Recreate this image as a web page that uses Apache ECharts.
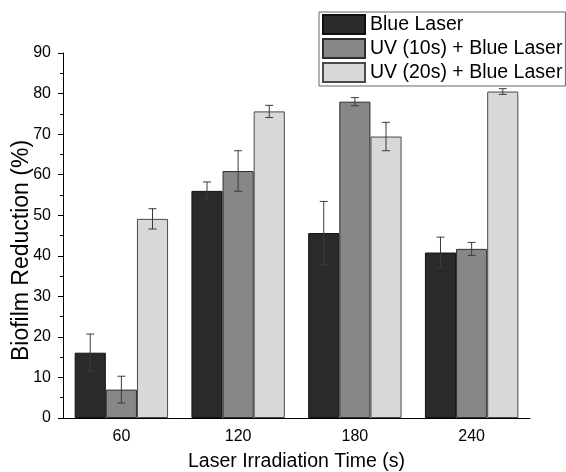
<!DOCTYPE html>
<html>
<head>
<meta charset="utf-8">
<script src="https://cdn.jsdelivr.net/npm/echarts@6/dist/echarts.min.js"></script>
<style>
  html, body { margin: 0; padding: 0; background: #fff; }
  #chart { width: 566px; height: 472px; }
</style>
</head>
<body>
<div id="chart"></div>
<script>
const categories = ['60', '120', '180', '240']
const seriesNames = ['Blue Laser', 'UV (10s) + Blue Laser', 'UV (20s) + Blue Laser']
const blueLaser = [16.1, 56.0, 45.6, 40.8]
const uv10 = [7.0, 60.9, 78.0, 41.7]
const uv20 = [49.1, 75.6, 69.4, 80.5]
const blueErr = [4.6, 2.2, 7.8, 3.8]
const uv10Err = [3.3, 5.0, 1.0, 1.6]
const uv20Err = [2.5, 1.5, 3.5, 0.7]

const FILL = ['#2a2a2a', '#878787', '#d8d8d8']
const EDGE = ['#111111', '#2e2e2e', '#4a4a4a']
const FONT = 'Liberation Sans, Arial, sans-serif'
const CAT_GAP = 0.2

const values = [blueLaser, uv10, uv20]
const errors = [blueErr, uv10Err, uv20Err]

// one row per error bar: [category, series index, low, high]
const errRows = []
values.forEach((vals, s) => {
  vals.forEach((v, i) => errRows.push([i, s, v - errors[s][i], v + errors[s][i]]))
})

function renderErr(params, api) {
  const cat = api.value(0)
  const s = api.value(1)
  const catW = api.size([1, 0])[0]
  const barW = catW * (1 - CAT_GAP) / 3
  const dx = (s - 1) * barW
  const lo = api.coord([cat, api.value(2)])
  const hi = api.coord([cat, api.value(3)])
  const x = lo[0] + dx
  const cap = 4
  const style = { stroke: '#3a3a3a', lineWidth: 1 }
  return {
    type: 'group',
    children: [
      { type: 'line', shape: { x1: x, y1: hi[1], x2: x, y2: lo[1] }, style },
      { type: 'line', shape: { x1: x - cap, y1: hi[1], x2: x + cap, y2: hi[1] }, style },
      { type: 'line', shape: { x1: x - cap, y1: lo[1], x2: x + cap, y2: lo[1] }, style },
    ],
  }
}

const chart = echarts.init(document.getElementById('chart'))
chart.setOption({
  animation: false,
  textStyle: { fontFamily: FONT },
  grid: { left: 63, right: 36, top: 53, bottom: 54, outerBoundsMode: 'none' },
  legend: {
    data: seriesNames,
    orient: 'vertical',
    left: 319,
    top: 12,
    icon: 'rect',
    itemWidth: 42,
    itemHeight: 19,
    itemGap: 3,
    itemTextGap: 5,
    padding: [2, 3, 3, 3],
    borderColor: '#666',
    borderWidth: 1,
    backgroundColor: '#fff',
    textStyle: { fontSize: 19.5, lineHeight: 20, color: '#000', fontFamily: FONT },
  },
  xAxis: [
    {
      type: 'category',
      data: categories,
      name: 'Laser Irradiation Time (s)',
      nameLocation: 'middle',
      nameGap: 34,
      nameMoveOverlap: false,
      nameTextStyle: { fontSize: 19.5, color: '#000' },
      axisLine: { lineStyle: { color: '#000', width: 1 } },
      axisTick: { length: 5, lineStyle: { color: '#000' } },
      axisLabel: { fontSize: 16, color: '#000', margin: 11 },
    },
    {
      type: 'category',
      data: categories,
      position: 'bottom',
      axisLine: { show: false },
      axisTick: { alignWithLabel: true, length: 5, lineStyle: { color: '#000' } },
      axisLabel: { show: false },
    },
  ],
  yAxis: {
    type: 'value',
    min: 0,
    max: 90,
    interval: 10,
    name: 'Biofilm Reduction (%)',
    nameLocation: 'middle',
    nameGap: 30,
    nameMoveOverlap: false,
    nameTextStyle: { fontSize: 23, color: '#000', padding: [0, 30, 0, 0] },
    axisLine: { show: true, lineStyle: { color: '#000', width: 1 } },
    axisTick: { show: true, length: 5, lineStyle: { color: '#000' } },
    minorTick: { show: true, splitNumber: 2, length: 3, lineStyle: { color: '#000' } },
    axisLabel: { fontSize: 16, color: '#000', margin: 12 },
    splitLine: { show: false },
  },
  series: [
    ...seriesNames.map((name, s) => ({
      name,
      type: 'bar',
      data: values[s],
      barGap: 0,
      barCategoryGap: CAT_GAP * 100 + '%',
      itemStyle: { color: FILL[s], borderColor: EDGE[s], borderWidth: 1 },
    })),
    {
      type: 'custom',
      data: errRows,
      renderItem: renderErr,
      z: 5,
      silent: true,
    },
  ],
})
</script>
</body>
</html>
